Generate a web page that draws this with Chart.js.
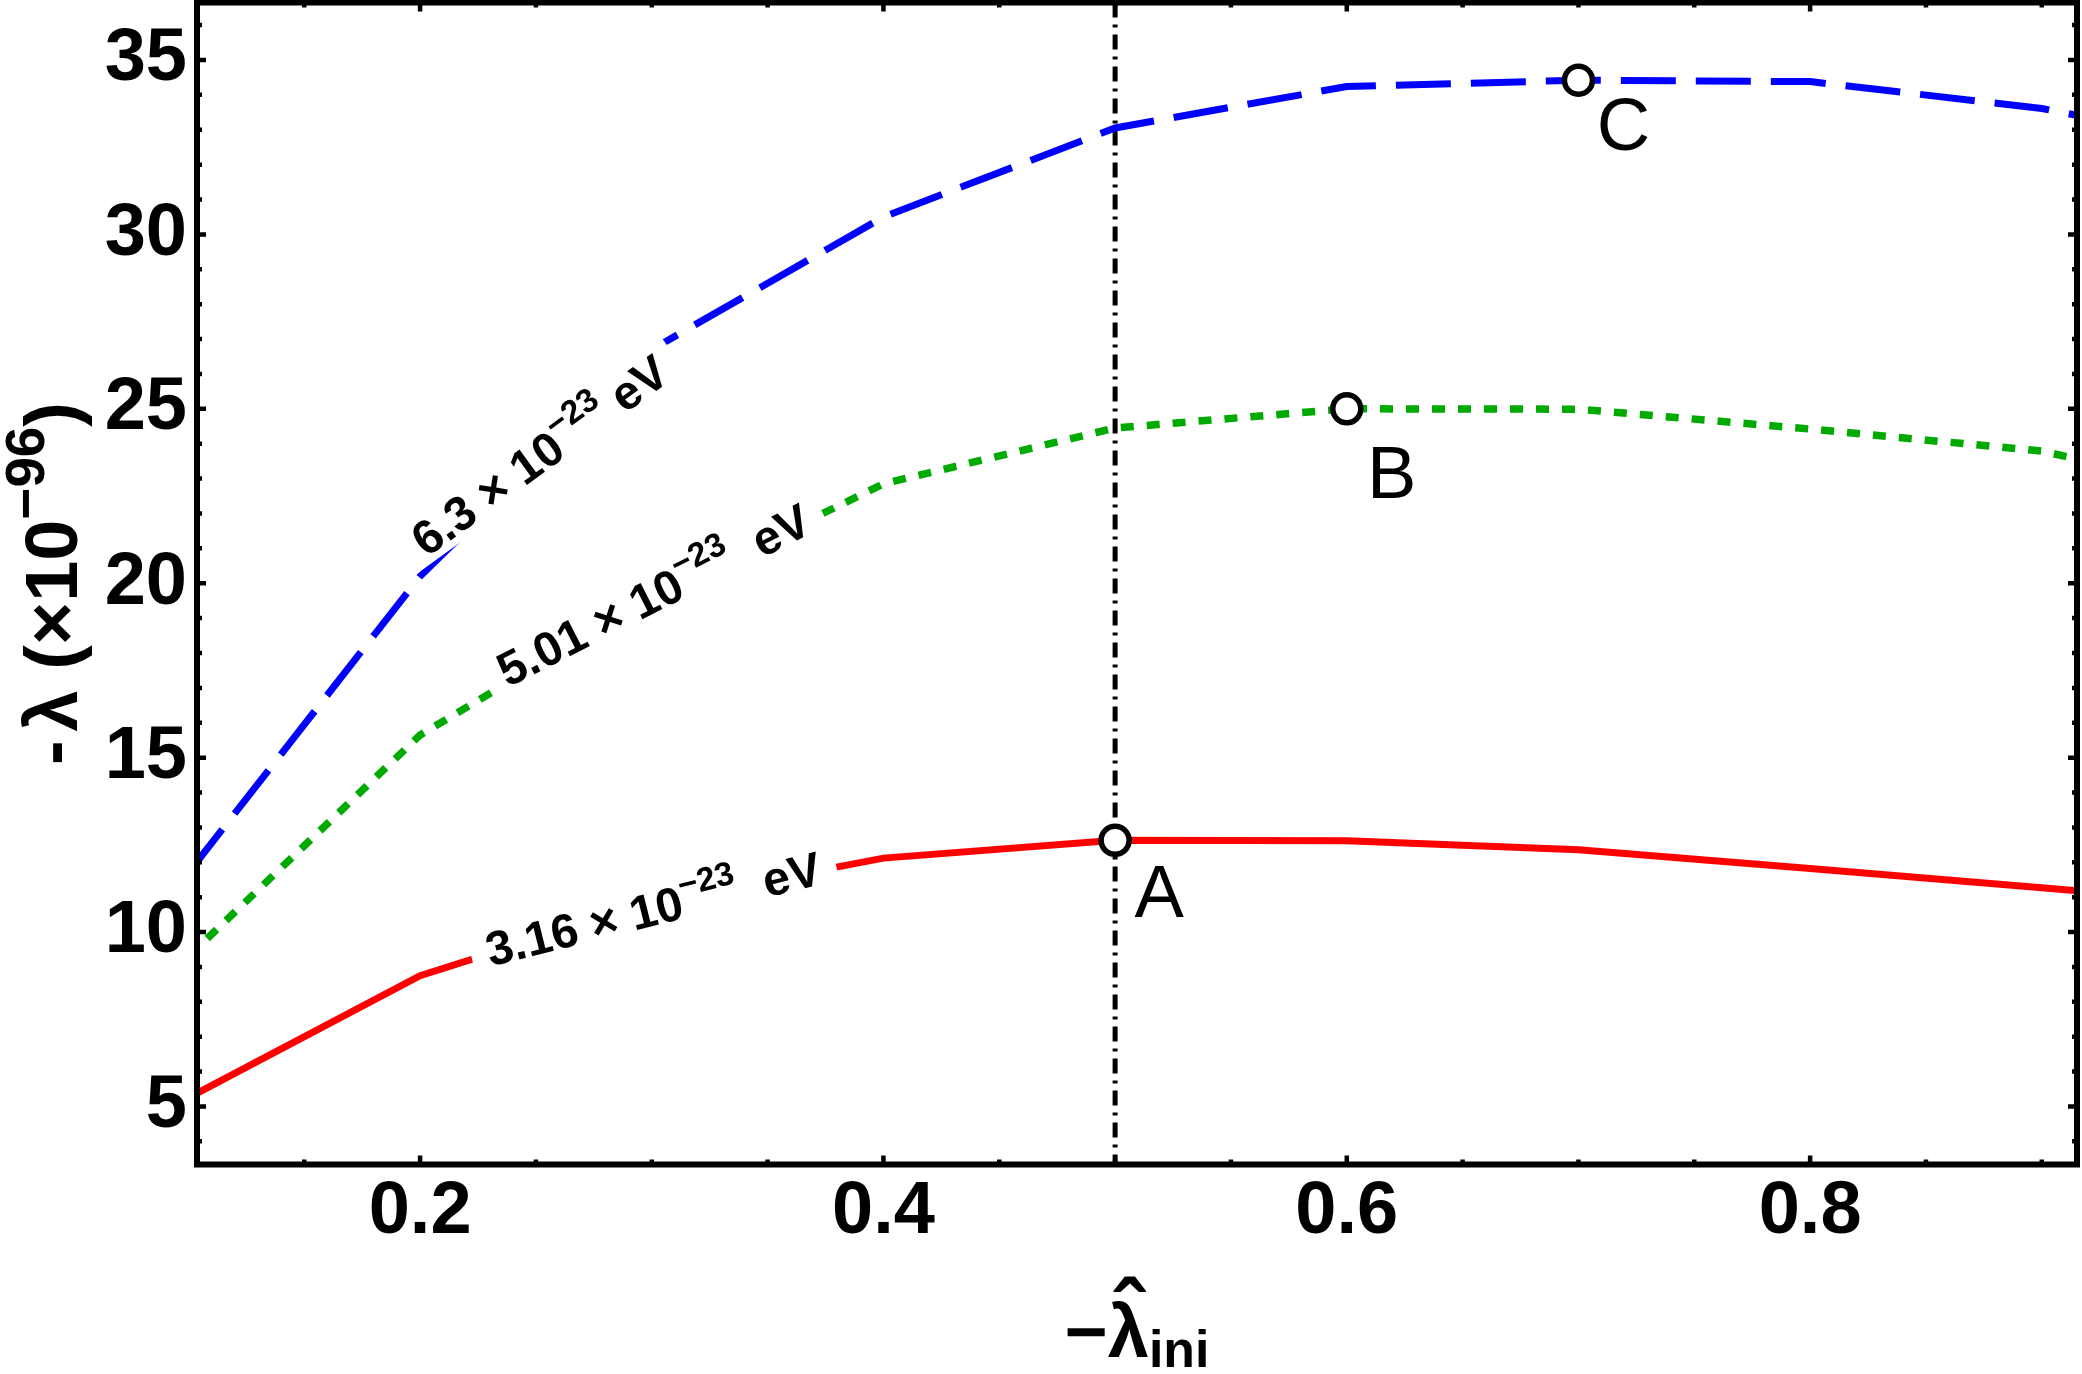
<!DOCTYPE html>
<html>
<head>
<meta charset="utf-8">
<script src="https://cdn.jsdelivr.net/npm/chart.js@4.4.1/dist/chart.umd.min.js"></script>
<style>
html, body { margin: 0; padding: 0; background: #fff; }
#chart { display: block; }
</style>
</head>
<body>
<canvas id="chart" width="2082" height="1374" style="width:2082px;height:1374px"></canvas>
<script>
// -lambda_ini grid and the three curves (units of 1e-96)
var lamIni = [0.1, 0.2, 0.3, 0.4, 0.5, 0.6, 0.7, 0.8, 0.9, 1.0];
var lamRed = [5.25, 8.75, 10.85, 12.12, 12.63, 12.62, 12.36, 11.82, 11.27, 10.7];
var lamGreen = [9.3, 15.65, 19.6, 22.85, 24.45, 25.0, 24.99, 24.42, 23.79, 22.3];
var lamBlue = [11.7, 20.2, 26.7, 30.5, 33.05, 34.24, 34.42, 34.38, 33.61, 32.3];
var curveMass = ['3.16', '5.01', '6.3'];
var markNames = ['A', 'B', 'C'];
var markAt = [0.5, 0.6, 0.7];
var xTickVals = [0.2, 0.4, 0.6, 0.8];
var yTickVals = [5, 10, 15, 20, 25, 30, 35];
var vLineAt = 0.5;

var FONT = '"Liberation Sans", Arial, Helvetica, sans-serif';

function pts(ys) {
    return lamIni.map(function (x, i) { return { x: x, y: ys[i] }; });
}
var series = [lamRed, lamGreen, lamBlue];
var markPts = markAt.map(function (x, i) {
    return { x: x, y: series[i][lamIni.indexOf(x)] };
});

// label placement (data anchor + rotation), curve order red, green, blue
var curveTags = [
    { at: [0.3006, 10.67], angle: -14, gap: '  ' },
    { at: [0.3007, 19.67], angle: -27, gap: '  ' },
    { at: [0.2515, 23.67], angle: -36, gap: ' ' }
];
var markOffsets = [[44, 56], [45, 69], [45, 49]];

// parts: [text, size factor, raise (em), extra space after (em)]
function drawRich(ctx, parts, size, weight, originX) {
    var x = originX;
    parts.forEach(function (p) {
        ctx.font = weight + ' ' + (size * p[1]) + 'px ' + FONT;
        ctx.fillText(p[0], x, p[2] * size);
        x += ctx.measureText(p[0]).width + (p[3] || 0) * size;
    });
    return x - originX;
}
function richWidth(ctx, parts, size, weight) {
    var w = 0;
    parts.forEach(function (p) {
        ctx.font = weight + ' ' + (size * p[1]) + 'px ' + FONT;
        w += ctx.measureText(p[0]).width + (p[3] || 0) * size;
    });
    return w;
}

var decorPlugin = {
    id: 'decor',
    beforeDatasetsDraw: function (chart) {
        var ctx = chart.ctx, a = chart.chartArea;
        var px = chart.scales.x.getPixelForValue(vLineAt);
        ctx.save();
        ctx.strokeStyle = '#000';
        ctx.lineWidth = 5;
        ctx.setLineDash([15, 7, 3, 7]);
        ctx.beginPath();
        ctx.moveTo(px, a.top);
        ctx.lineTo(px, a.bottom);
        ctx.stroke();
        ctx.restore();
    },
    afterDatasetsDraw: function (chart) {
        var ctx = chart.ctx, xs = chart.scales.x, ys = chart.scales.y;
        var size = 48;
        ctx.save();
        ctx.textBaseline = 'alphabetic';
        curveTags.forEach(function (tag, i) {
            var parts = [[curveMass[i] + ' \u00d7 10', 1, 0], ['\u221223', 0.7, -0.45], [tag.gap + 'eV', 1, 0]];
            var w = richWidth(ctx, parts, size, 'bold');
            ctx.save();
            ctx.translate(xs.getPixelForValue(tag.at[0]), ys.getPixelForValue(tag.at[1]));
            ctx.rotate(tag.angle * Math.PI / 180);
            ctx.translate(0, size * 0.35);
            ctx.fillStyle = '#fff';
            ctx.fillRect(-w / 2 - 16, -size * 0.85, w + 32, size * 1.0);
            ctx.fillStyle = '#000';
            drawRich(ctx, parts, size, 'bold', -w / 2);
            ctx.restore();
        });
        ctx.font = '74px ' + FONT;
        ctx.fillStyle = '#000';
        ctx.textAlign = 'center';
        ctx.textBaseline = 'middle';
        markPts.forEach(function (p, i) {
            ctx.fillText(markNames[i], xs.getPixelForValue(p.x) + markOffsets[i][0],
                ys.getPixelForValue(p.y) + markOffsets[i][1]);
        });
        ctx.restore();
    },
    afterDraw: function (chart) {
        var ctx = chart.ctx, a = chart.chartArea, xs = chart.scales.x, ys = chart.scales.y;
        var i, p, len;
        ctx.save();
        ctx.strokeStyle = '#000';
        // inward ticks on all four sides
        ctx.lineWidth = 4.5;
        ctx.beginPath();
        for (i = Math.ceil(xs.min / 0.05); i * 0.05 <= xs.max; i++) {
            p = xs.getPixelForValue(i * 0.05);
            len = (i % 4 === 0) ? 9 : 5;
            ctx.moveTo(p, a.bottom); ctx.lineTo(p, a.bottom - len);
            ctx.moveTo(p, a.top); ctx.lineTo(p, a.top + len);
        }
        for (i = Math.ceil(ys.min); i <= ys.max; i++) {
            p = ys.getPixelForValue(i);
            len = (i % 5 === 0) ? 9 : 5;
            ctx.moveTo(a.left, p); ctx.lineTo(a.left + len, p);
            ctx.moveTo(a.right, p); ctx.lineTo(a.right - len, p);
        }
        ctx.stroke();
        // frame
        ctx.lineWidth = 6;
        ctx.strokeRect(a.left, a.top, a.right - a.left, a.bottom - a.top);

        ctx.fillStyle = '#000';
        ctx.textBaseline = 'alphabetic';
        // x title: -lambda-hat_ini
        var size = 74;
        var xParts = [['\u2212', 1, 0], ['\u03bb', 1, 0], ['ini', 0.7, 0.135]];
        var w = richWidth(ctx, xParts, size, 'bold');
        var x0 = (a.left + a.right) / 2 - w / 2;
        var base = a.bottom + 192.5;
        ctx.save();
        ctx.translate(0, base);
        drawRich(ctx, xParts, size, 'bold', x0);
        ctx.font = 'bold ' + size + 'px ' + FONT;
        var dashW = ctx.measureText('\u2212').width;
        var lamW = ctx.measureText('\u03bb').width;
        ctx.textAlign = 'center';
        ctx.font = 'bold 90px ' + FONT;
        ctx.fillText('\u02c6', x0 + dashW + lamW / 2, -12);
        ctx.restore();

        // y title: -lambda (x10^-96), centred on the plot height
        ctx.save();
        var yParts = [['-', 1, 0, 0.12], ['\u03bb (\u00d710', 1, 0], ['\u221296', 0.74, -0.45], [')', 1, 0]];
        var yw = richWidth(ctx, yParts, size, 'bold');
        ctx.translate(a.left - 120, (a.top + a.bottom) / 2);
        ctx.rotate(-Math.PI / 2);
        drawRich(ctx, yParts, size, 'bold', -yw / 2);
        ctx.restore();
        ctx.restore();
    }
};

var ctx = document.getElementById('chart').getContext('2d');
var lineStyle = { pointRadius: 0, borderWidth: 7, fill: false, tension: 0, order: 1, borderCapStyle: 'butt' };
var myChart = new Chart(ctx, {
    type: 'line',
    data: {
        datasets: [
            { label: 'A-B-C', data: markPts, showLine: false, pointRadius: 14, order: 0,
                pointBorderWidth: 5.5, pointBorderColor: '#000', pointBackgroundColor: '#fff' },
            Object.assign({ label: curveMass[0], data: pts(lamRed), borderColor: '#ff0000' }, lineStyle),
            Object.assign({ label: curveMass[1], data: pts(lamGreen), borderColor: '#00aa00', borderDash: [13, 13] }, lineStyle, { borderWidth: 7.5 }),
            Object.assign({ label: curveMass[2], data: pts(lamBlue), borderColor: '#0000ff', borderDash: [55, 20] }, lineStyle)
        ]
    },
    options: {
        responsive: false,
        animation: false,
        devicePixelRatio: 1,
        layout: { autoPadding: false, padding: { left: 0, top: 2.5, right: 5, bottom: 0 } },
        plugins: { legend: { display: false }, tooltip: { enabled: false } },
        scales: {
            x: {
                type: 'linear',
                min: 0.1037,
                max: 0.9152,
                bounds: 'data',
                grid: { display: false, drawTicks: false },
                border: { display: false },
                ticks: {
                    color: '#000',
                    padding: 4,
                    font: { family: FONT, size: 74, weight: 'bold' },
                    maxRotation: 0,
                    callback: function (v) { return v.toFixed(1); }
                },
                afterBuildTicks: function (s) { s.ticks = xTickVals.map(function (v) { return { value: v }; }); },
                afterFit: function (s) { s.height = 1374 - 1164.5; s.paddingLeft = 0; s.paddingRight = 0; }
            },
            y: {
                type: 'linear',
                min: 3.337,
                max: 36.648,
                bounds: 'data',
                grid: { display: false, drawTicks: false },
                border: { display: false },
                ticks: {
                    color: '#000',
                    padding: 10,
                    font: { family: FONT, size: 74, weight: 'bold' },
                    callback: function (v) { return String(v); }
                },
                afterBuildTicks: function (s) { s.ticks = yTickVals.map(function (v) { return { value: v }; }); },
                afterFit: function (s) { s.width = 197; s.paddingTop = 0; s.paddingBottom = 0; }
            }
        }
    },
    plugins: [decorPlugin]
});
</script>
</body>
</html>
